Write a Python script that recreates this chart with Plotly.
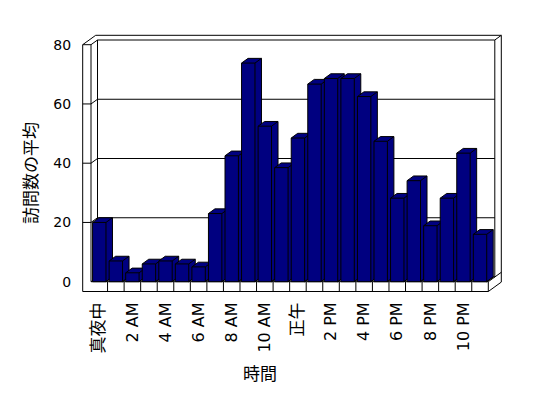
import plotly.graph_objects as go

# ---------------- data ----------------
hour_labels = ["真夜中", "1 AM", "2 AM", "3 AM", "4 AM", "5 AM", "6 AM", "7 AM",
               "8 AM", "9 AM", "10 AM", "11 AM", "正午", "1 PM", "2 PM", "3 PM",
               "4 PM", "5 PM", "6 PM", "7 PM", "8 PM", "9 PM", "10 PM", "11 PM"]
avg_visits = [20, 7, 3, 6, 7, 6, 5, 23, 42.5, 73.8, 52.5, 38.5,
              48.5, 66.7, 68.6, 68.6, 62.5, 47.4, 28.2, 34.1, 18.9, 28.2, 43.4, 16]
tick_idx = list(range(0, 24, 2))
tick_labels = [hour_labels[i] for i in tick_idx]
y_ticks = [0, 20, 40, 60, 80]
y_title = "訪問数の平均"
x_title = "時間"

# ---------------- geometry (page pixels -> axis units) ----------------
W, H = 548, 398
OFF = 8                                 # page body margin offset
L, R, T, B = 82, 510, 30, 292           # plot area in page pixels
PX0, PX1 = 91.0, 488.3                  # front plane: category -0.5 .. 23.5
PY0, PY80 = 281.7, 44.7                 # front plane: value 0 .. 80
n = len(avg_visits)
CW = (PX1 - PX0) / n
VS = (PY0 - PY80) / 80.0
xr0 = -0.5 - (PX0 - L) / CW
xr1 = n - 0.5 + (R - PX1) / CW
yr0 = -(B - PY0) / VS
yr1 = (PY0 - T) / VS

DX = 6.5 / CW          # depth offset (x, category units)
DY = 4.7 / VS          # depth offset (y, value units)
WALL = (PX0 - 82.7) / CW
FT = (291.5 - PY0) / VS
X0, X1 = -0.5, n - 0.5
YMAX = 80
BW = 0.81
NAVY = "#000080"

fig = go.Figure()

def line(xs, ys, width=1):
    fig.add_trace(go.Scatter(x=xs, y=ys, mode="lines",
                             line=dict(color="black", width=width),
                             hoverinfo="skip", showlegend=False))

# ---- frame: walls and floor ----
line([X0 - WALL, X0, X0, X1, X1, X0 - WALL, X0 - WALL],
     [YMAX, YMAX, 0, 0, -FT, -FT, YMAX])
line([X0 - WALL, X0 - WALL + 2 * DX, X1 + 2 * DX],
     [YMAX, YMAX + 2 * DY, YMAX + 2 * DY])
line([X0, X0 + DX, X1 + DX, X1 + 2 * DX],
     [YMAX, YMAX + DY, YMAX + DY, YMAX + 2 * DY])
line([X0 + DX, X0 + DX], [YMAX + DY, DY])
line([X0, X0 + DX], [0, DY])
line([X1 + DX, X1 + DX], [YMAX + DY, DY])
line([X1 + 2 * DX, X1 + 2 * DX], [YMAX + 2 * DY, -FT + 2 * DY])
line([X1, X1 + DX, X1 + 2 * DX], [0, DY, 2 * DY])
line([X1, X1 + 2 * DX], [-FT, -FT + 2 * DY])
line([X0 + DX, X1 + DX], [DY, DY])
for k in range(1, n):
    line([k - 0.5, k - 0.5], [0, -FT])
for v in y_ticks[1:-1]:
    line([X0 - WALL, X0, X0 + DX, X1 + DX], [v, v, v + DY, v + DY])

# ---- 3D bars (drawn left to right) ----
for i, v in enumerate(avg_visits):
    xl, xr = i - BW / 2, i + BW / 2
    fig.add_trace(go.Scatter(
        x=[xl, xr, xr + DX, xr + DX, xl + DX, xl, xl],
        y=[0, 0, DY, v + DY, v + DY, v, 0],
        mode="lines", fill="toself", fillcolor=NAVY,
        line=dict(color="black", width=1),
        name=hour_labels[i], hovertemplate="%{fullData.name}: " + str(v) + "<extra></extra>",
        showlegend=False))
    line([xl, xr, xr, xr + DX], [v, v, 0, DY])
    line([xr, xr + DX], [v, v + DY])

FONT = "DejaVu Sans, Noto Sans CJK JP, sans-serif"
CJK = "Noto Sans CJK JP"

def fmt_tick(t):
    if any(ord(ch) > 0x2E80 for ch in t):
        return '<span style="font-size:17px">' + t + '</span>'
    return t

def px_to_paper_x(px):
    return (px - L) / (R - L)

def px_to_paper_y(py):
    return (B - py) / (B - T)

fig.update_layout(
    template="none",
    width=W, height=H,
    margin=dict(l=L - OFF, r=W - (R - OFF), t=T - OFF, b=H - (B - OFF),
                pad=0, autoexpand=False),
    paper_bgcolor="white", plot_bgcolor="white",
    font=dict(family=FONT, size=15, color="black"),
    showlegend=False,
    xaxis=dict(range=[xr0, xr1], tickmode="array", tickvals=tick_idx,
               ticktext=[fmt_tick(t) for t in tick_labels], tickangle=-90,
               showgrid=False, zeroline=False, showline=False,
               ticks="outside", ticklen=3, tickcolor="rgba(0,0,0,0)",
               tickfont=dict(size=16, family=FONT, color="black"),
               automargin=False, fixedrange=True),
    yaxis=dict(range=[yr0, yr1], tickmode="array", tickvals=y_ticks,
               showgrid=False, zeroline=False, showline=False,
               ticks="outside", ticklen=7, tickcolor="rgba(0,0,0,0)",
               tickfont=dict(size=14, family=FONT, color="black"),
               automargin=False, fixedrange=True),
    annotations=[
        dict(text=x_title, xref="paper", yref="paper",
             x=px_to_paper_x(260), y=px_to_paper_y(372),
             xanchor="center", yanchor="middle",
             showarrow=False, font=dict(size=17, family=CJK, color="black")),
        dict(text=y_title, xref="paper", yref="paper",
             x=px_to_paper_x(29), y=px_to_paper_y(173), textangle=-90,
             xanchor="center", yanchor="middle",
             showarrow=False, font=dict(size=17, family=CJK, color="black")),
    ],
)

fig.write_html("out.html")
